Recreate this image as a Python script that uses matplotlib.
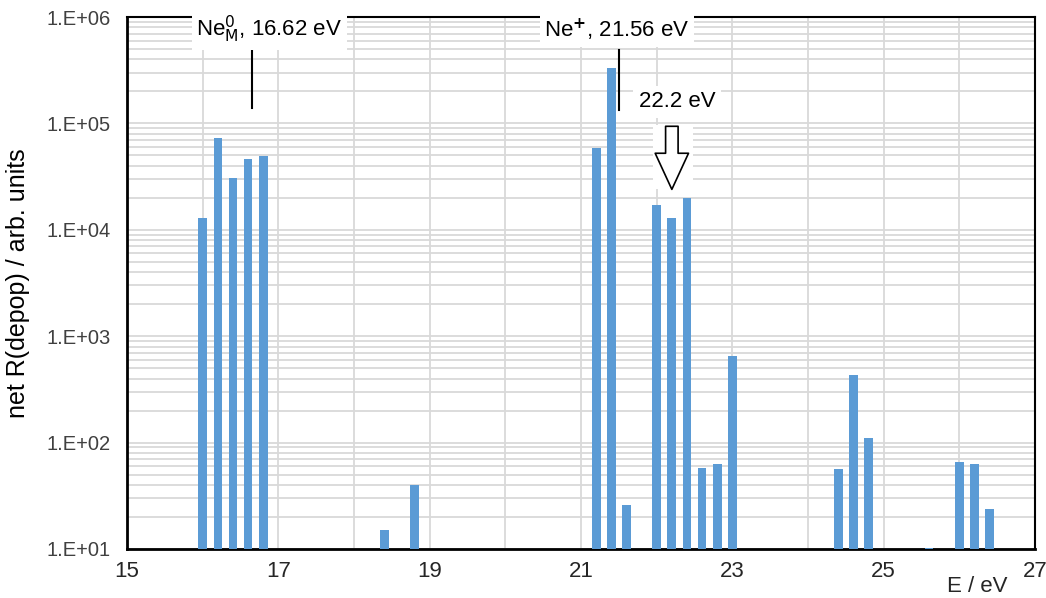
import numpy as np
import matplotlib.pyplot as plt
from matplotlib.patches import Rectangle
from matplotlib.ticker import LogLocator, FixedLocator, FuncFormatter

plt.rcParams['font.family'] = ['Liberation Sans', 'DejaVu Sans']

# energies (eV) and net depopulation rates
energy = [16.0, 16.2, 16.4, 16.6, 16.8,
          18.4, 18.8,
          21.2, 21.4, 21.6,
          22.0, 22.2, 22.4, 22.6, 22.8, 23.0,
          24.4, 24.6, 24.8,
          25.6,
          26.0, 26.2, 26.4]
rate = [1.3e4, 7.3e4, 3.1e4, 4.6e4, 4.9e4,
        15, 40,
        5.9e4, 3.3e5, 26,
        1.72e4, 1.3e4, 2.0e4, 58, 63, 650,
        56, 435, 110,
        10.3,
        65, 63, 24]

xticks = np.arange(15, 28, 1)
xlabels = ['%d' % t if t % 2 == 1 else '' for t in xticks]

fig = plt.figure(figsize=(10.46, 5.98), dpi=100)
ax = fig.add_axes([0.1215, 0.082, 0.868, 0.8895])

ax.bar(energy, rate, width=0.115, color='#5B9BD5', zorder=3)

ax.set_yscale('log')
ax.set_ylim(10, 1e6)
ax.set_xlim(15, 27)

ax.xaxis.set_major_locator(FixedLocator(xticks))
ax.set_xticklabels(xlabels)
ax.yaxis.set_major_locator(LogLocator(base=10))
ax.yaxis.set_minor_locator(LogLocator(base=10, subs=np.arange(2, 10)))
ax.yaxis.set_major_formatter(FuncFormatter(lambda v, p: '1.E+%02d' % round(np.log10(v))))
ax.yaxis.set_minor_formatter(FuncFormatter(lambda v, p: ''))

ax.grid(True, which='major', color='#d9d9d9', linewidth=1.3, zorder=0)
ax.grid(True, which='minor', axis='y', color='#d9d9d9', linewidth=1.3, zorder=0)
ax.set_axisbelow(True)

ax.tick_params(axis='both', which='both', length=0)
ax.tick_params(axis='y', labelsize=14.5, labelcolor='#404040', pad=12)
ax.tick_params(axis='x', labelsize=16, labelcolor='#262626', pad=9)

for side in ['left', 'bottom']:
    ax.spines[side].set_linewidth(2)
    ax.spines[side].set_color('black')
for side in ['top', 'right']:
    ax.spines[side].set_linewidth(1.5)
    ax.spines[side].set_color('black')

ax.set_ylabel('net R(depop) / arb. units', fontsize=18, labelpad=12)
fig.text(0.934, 0.02, 'E / eV', fontsize=16, color='#262626', ha='center', va='center')

# annotations
ax.text(16.88, 0.976, r'Ne$^{0}_{\mathrm{M}}$, 16.62 eV', transform=ax.get_xaxis_transform(),
        ha='center', va='center', fontsize=16, zorder=6, clip_on=False,
        bbox=dict(facecolor='white', edgecolor='none', pad=3))
ax.plot([16.65, 16.65], [4.9e5, 1.4e5], color='black', linewidth=1.5, zorder=5)

ax.text(21.47, 0.976, r'Ne$^{\mathbf{+}}$, 21.56 eV', transform=ax.get_xaxis_transform(),
        ha='center', va='center', fontsize=16, zorder=6, clip_on=False,
        bbox=dict(facecolor='white', edgecolor='none', pad=3))
ax.plot([21.5, 21.5], [4.9e5, 1.35e5], color='black', linewidth=1.5, zorder=5)

ax.text(22.27, 1.6e5, '22.2 eV', ha='center', va='center', fontsize=16, zorder=6,
        bbox=dict(facecolor='white', edgecolor='none', pad=4))
ax.add_patch(Rectangle((21.95, 2.4e4), 0.53, 9.6e4 - 2.4e4, facecolor='white',
                       edgecolor='none', zorder=2))
ax.annotate('', xy=(22.2, 2.4e4), xytext=(22.2, 9.4e4),
            arrowprops=dict(facecolor='white', edgecolor='black', width=9,
                            headwidth=24, headlength=26, linewidth=1.2),
            zorder=6)

fig.savefig('out.png', dpi=100)
